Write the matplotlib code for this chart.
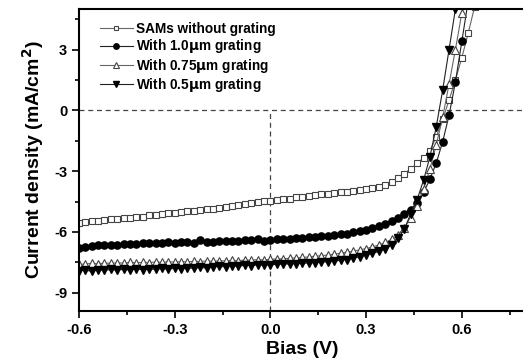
import matplotlib.pyplot as plt
from matplotlib.ticker import MultipleLocator

plt.rcParams['font.family'] = ['Liberation Sans', 'DejaVu Sans']
plt.rcParams['font.weight'] = 'bold'

# bias grid (V), 0.02 V steps as measured
bias = [-0.60, -0.58, -0.56, -0.54, -0.52, -0.50, -0.48, -0.46, -0.44, -0.42,
        -0.40, -0.38, -0.36, -0.34, -0.32, -0.30, -0.28, -0.26, -0.24, -0.22,
        -0.20, -0.18, -0.16, -0.14, -0.12, -0.10, -0.08, -0.06, -0.04, -0.02,
        0.00, 0.02, 0.04, 0.06, 0.08, 0.10, 0.12, 0.14, 0.16, 0.18,
        0.20, 0.22, 0.24, 0.26, 0.28, 0.30, 0.32, 0.34, 0.36, 0.38,
        0.40, 0.42, 0.44, 0.46, 0.48, 0.50, 0.52, 0.54, 0.56, 0.58,
        0.60, 0.62, 0.64]

# current density (mA/cm^2)
j_sams = [-5.55, -5.50, -5.46, -5.44, -5.40, -5.37, -5.34, -5.31, -5.30, -5.27,
          -5.24, -5.18, -5.15, -5.12, -5.08, -5.05, -5.02, -4.98, -4.95, -4.92,
          -4.88, -4.85, -4.80, -4.76, -4.70, -4.66, -4.62, -4.55, -4.52, -4.48,
          -4.45, -4.42, -4.38, -4.35, -4.30, -4.26, -4.22, -4.19, -4.15, -4.12,
          -4.08, -4.04, -4.02, -3.98, -3.95, -3.90, -3.84, -3.76, -3.66, -3.52,
          -3.34, -3.12, -2.88, -2.62, -2.35, -2.00, -1.30, -0.45, 0.50, 1.50,
          2.60, 3.80, 5.10]
j_10 = [-6.80, -6.72, -6.68, -6.66, -6.64, -6.62, -6.62, -6.60, -6.58, -6.60,
        -6.56, -6.55, -6.56, -6.53, -6.52, -6.54, -6.50, -6.52, -6.53, -6.42,
        -6.48, -6.48, -6.46, -6.47, -6.45, -6.44, -6.40, -6.42, -6.34, -6.44,
        -6.40, -6.36, -6.34, -6.33, -6.30, -6.28, -6.26, -6.24, -6.22, -6.20,
        -6.16, -6.12, -6.08, -6.02, -5.96, -5.90, -5.82, -5.72, -5.60, -5.46,
        -5.30, -5.12, -4.92, -4.55, -4.05, -3.40, -2.60, -1.55, -0.25, 1.40,
        3.40, 5.40]
j_075 = [-7.60, -7.58, -7.55, -7.57, -7.53, -7.55, -7.52, -7.54, -7.50, -7.52,
         -7.50, -7.51, -7.48, -7.50, -7.47, -7.49, -7.46, -7.48, -7.45, -7.46,
         -7.43, -7.45, -7.42, -7.43, -7.40, -7.42, -7.38, -7.40, -7.36, -7.38,
         -7.35, -7.33, -7.32, -7.30, -7.28, -7.26, -7.23, -7.20, -7.17, -7.14,
         -7.10, -7.05, -7.00, -6.95, -6.88, -6.82, -6.74, -6.64, -6.52, -6.36,
         -6.15, -5.80, -5.30, -4.70, -3.90, -2.90, -1.70, -0.35, 1.30, 3.00,
         4.80, 6.60]
j_05 = [-7.92, -7.88, -7.95, -7.86, -7.90, -7.85, -7.89, -7.84, -7.88, -7.83,
        -7.86, -7.82, -7.85, -7.80, -7.84, -7.79, -7.82, -7.77, -7.80, -7.75,
        -7.78, -7.72, -7.70, -7.72, -7.66, -7.70, -7.64, -7.66, -7.62, -7.64,
        -7.62, -7.60, -7.58, -7.58, -7.56, -7.55, -7.53, -7.51, -7.49, -7.47,
        -7.44, -7.40, -7.36, -7.30, -7.22, -7.14, -7.06, -6.96, -6.84, -6.62,
        -6.32, -5.85, -5.10, -4.40, -3.45, -2.30, -0.80, 1.00, 3.00, 5.00]

labels = ['SAMs without grating', r'With 1.0$\mathbf{\mu}$m grating',
          r'With 0.75$\mathbf{\mu}$m grating', r'With 0.5$\mathbf{\mu}$m grating']

fig = plt.figure(figsize=(5.23, 3.64), dpi=100)
ax = fig.add_axes([0.151, 0.1456, 0.854, 0.8297])

ax.axhline(0, color='#444444', ls=(0, (4, 3)), lw=0.9)
ax.plot([0, 0], [-9.9, 0], color='#444444', ls=(0, (4, 3)), lw=0.9)

ax.plot(bias[:len(j_sams)], j_sams, '-s', color='#666666', lw=0.8, ms=4.8,
        mfc='white', mec='#444444', mew=0.8, label=labels[0])
ax.plot(bias[:len(j_10)], j_10, '-o', color='#222222', lw=0.8, ms=5.2,
        mfc='black', mec='black', label=labels[1])
ax.plot(bias[:len(j_075)], j_075, '-^', color='#666666', lw=0.8, ms=5.6,
        mfc='white', mec='#444444', mew=0.8, label=labels[2])
ax.plot(bias[:len(j_05)], j_05, '-v', color='#222222', lw=0.8, ms=5.6,
        mfc='black', mec='black', label=labels[3])

ax.set_xlim(-0.6, 0.8)
ax.set_ylim(-9.9, 5)
ax.xaxis.set_minor_locator(MultipleLocator(0.15))
ax.yaxis.set_minor_locator(MultipleLocator(1.5))
ax.set_xticks([-0.6, -0.3, 0.0, 0.3, 0.6])
ax.set_xticklabels(['-0.6', '-0.3', '0.0', '0.3', '0.6'])
ax.set_yticks([-9, -6, -3, 0, 3])
ax.set_yticklabels(['-9', '-6', '-3', '0', '3'])
ax.tick_params(which='both', direction='out', labelsize=10.5, width=1.2)
ax.tick_params(which='major', length=5)
ax.tick_params(which='minor', length=3)
for s in ax.spines.values():
    s.set_linewidth(1.5)

ax.set_xlabel('Bias (V)', fontsize=14, fontweight='bold', labelpad=3)
ax.set_ylabel('Current density (mA/cm$\\mathbf{^2}$)', fontsize=14,
              fontweight='bold', labelpad=6)

ax.legend(loc='upper left', frameon=False, fontsize=9.8, handlelength=2.4,
          handletextpad=0.25, labelspacing=0.1, borderaxespad=0.0,
          markerscale=0.75, bbox_to_anchor=(0.035, 0.975))

fig.savefig('out.png', dpi=100)
